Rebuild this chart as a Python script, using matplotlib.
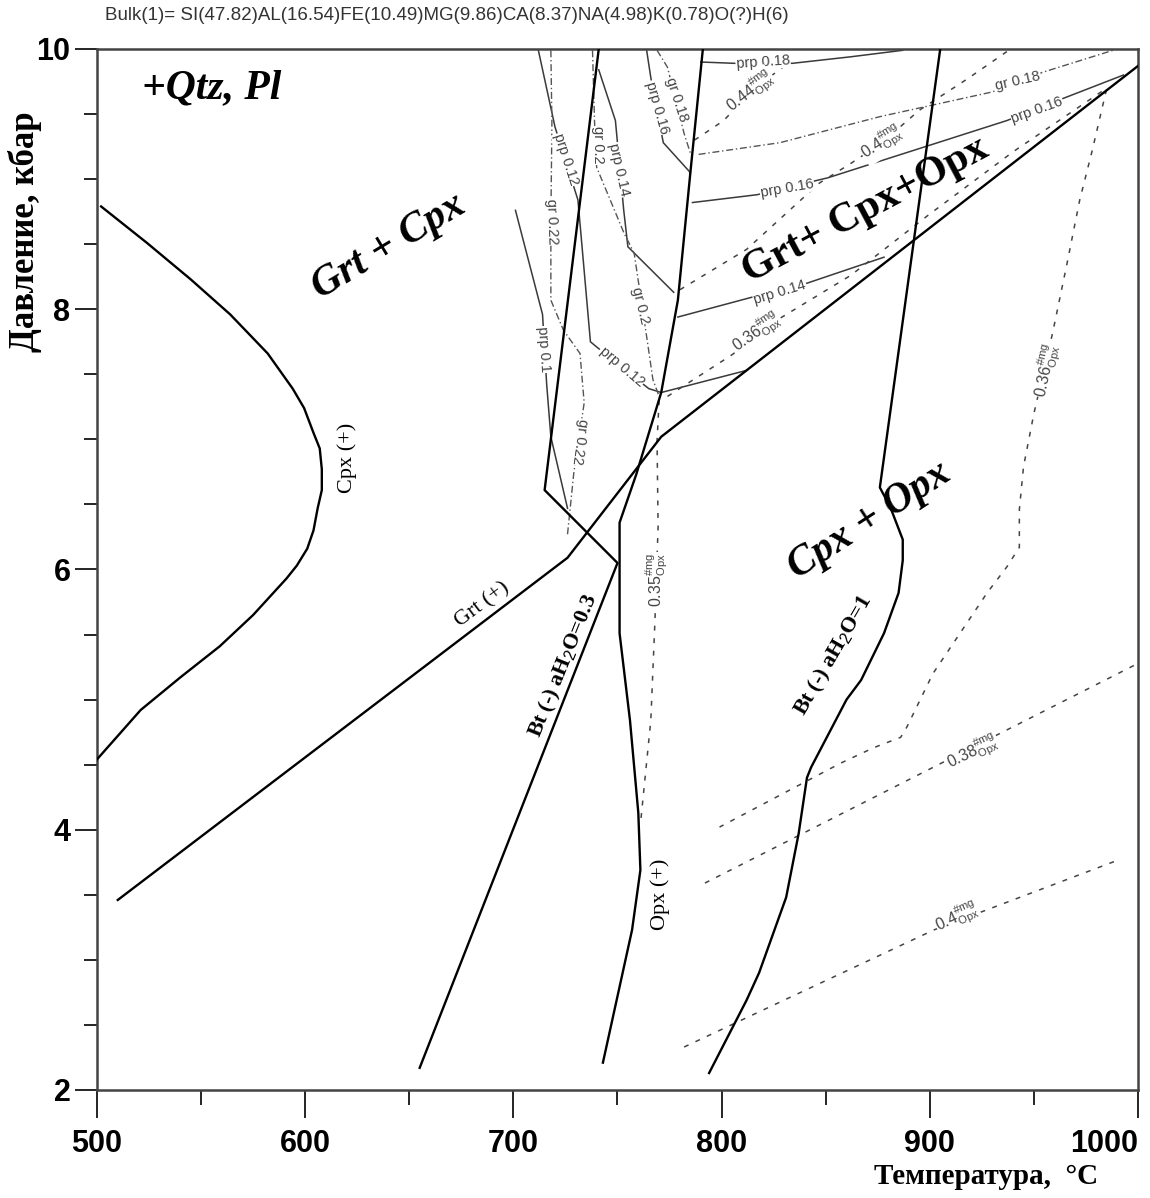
import matplotlib.pyplot as plt
from matplotlib.ticker import MultipleLocator

plt.rcParams['mathtext.fontset'] = 'custom'
plt.rcParams['mathtext.rm'] = 'Liberation Sans'
plt.rcParams['mathtext.it'] = 'Liberation Sans:italic'
plt.rcParams['mathtext.bf'] = 'Liberation Sans:bold'

# --- phase boundaries (T, degC ; P, kbar) ---
cpx_in_T = [502, 524, 545, 564, 582, 594, 599.5, 604, 607, 608, 608, 606, 604, 601, 596, 591, 575, 559, 540, 521, 500]
cpx_in_P = [8.79, 8.51, 8.23, 7.96, 7.66, 7.39, 7.24, 7.05, 6.93, 6.77, 6.61, 6.47, 6.30, 6.16, 6.03, 5.93, 5.65, 5.41, 5.17, 4.92, 4.54]

grt_in_T = [510, 726, 771, 1000]
grt_in_P = [3.46, 6.09, 7.02, 9.87]

bt03_T = [741, 715, 750, 655]
bt03_P = [10.0, 6.61, 6.05, 2.17]

opx_in_T = [791, 785, 779, 771, 759, 751, 751, 756, 760, 761, 757, 743]
opx_in_P = [10.0, 9.05, 8.07, 7.36, 6.73, 6.36, 5.51, 4.84, 4.13, 3.69, 3.23, 2.21]

bt1_T = [905, 876, 881, 887, 887, 885, 878, 867, 860, 843, 841, 837, 831, 818, 812, 794]
bt1_P = [10.0, 6.63, 6.48, 6.23, 6.07, 5.82, 5.51, 5.15, 5.0, 4.48, 4.40, 3.97, 3.48, 2.9, 2.69, 2.13]

# --- prp isopleths ---
prp010_T = [701, 714, 716, 718, 726]
prp010_P = [8.76, 7.96, 7.42, 7.02, 6.47]
prp012_T = [712, 720, 731, 737, 740, 765, 771, 812]
prp012_P = [9.99, 9.40, 8.84, 7.75, 7.71, 7.39, 7.36, 7.53]
prp014a_T = [741, 749, 753, 755, 777]
prp014a_P = [9.84, 9.45, 8.76, 8.48, 8.13]
prp014b_T = [779, 814, 841, 878]
prp014b_P = [7.94, 8.09, 8.20, 8.40]
prp016a_T = [764, 766, 772, 785]
prp016a_P = [9.99, 9.78, 9.28, 9.05]
prp016b_T = [786, 817, 851, 937, 964, 993]
prp016b_P = [8.82, 8.88, 9.01, 9.45, 9.62, 9.80]
prp018_T = [790, 806, 834, 862, 887]
prp018_P = [9.90, 9.89, 9.89, 9.94, 9.99]

# --- gr isopleths ---
gr022_T = [718, 718.5, 718, 718, 724, 732, 734, 729, 726]
gr022_P = [9.99, 9.43, 8.67, 8.07, 7.84, 7.66, 7.28, 6.74, 6.27]
gr020_T = [738, 739, 740, 753, 758, 764, 767, 770]
gr020_P = [9.99, 9.43, 9.09, 8.59, 8.43, 7.79, 7.46, 7.33]
gr018a_T = [769, 774, 782, 785]
gr018a_P = [9.99, 9.86, 9.35, 9.20]
gr018b_T = [789, 828, 876, 930, 954, 988]
gr018b_P = [9.19, 9.28, 9.48, 9.67, 9.82, 9.99]

# --- #mg Opx isopleths ---
mg035_T = [770, 769, 769.5, 768, 766, 761]
mg035_P = [7.30, 6.99, 6.33, 5.61, 4.84, 4.04]
mg036_T = [774, 805, 828, 862, 899, 940, 985, 978, 972, 966, 959, 950, 945, 943, 943,
           937, 927.5, 914.5, 901.5, 889, 886, 873, 857, 799]
mg036_P = [7.33, 7.65, 7.93, 8.26, 8.72, 9.21, 9.70, 9.22, 8.84, 8.36, 7.82, 7.20, 6.79, 6.46, 6.17,
           6.02, 5.82, 5.51, 5.20, 4.79, 4.71, 4.63, 4.51, 4.02]
mg038_T = [792, 999]
mg038_P = [3.59, 5.27]
mg040a_T = [782, 902, 991]
mg040a_P = [2.33, 3.23, 3.77]
mg040b_T = [780, 812, 847, 862, 877, 895, 918, 937]
mg040b_P = [8.15, 8.46, 8.97, 9.12, 9.28, 9.53, 9.77, 9.98]
mg044_T = [787, 801, 814, 826, 833]
mg044_P = [9.30, 9.45, 9.67, 9.82, 9.90]

# isopleth labels: T, P, text, rotation
iso_labels = [
    (714.7, 7.69, 'prp 0.1', -86), (725.3, 9.15, 'prp 0.12', -72), (752, 7.56, 'prp 0.12', -40),
    (750.7, 9.07, 'prp 0.14', -77), (828, 8.13, 'prp 0.14', 17), (769, 9.55, 'prp 0.16', -74),
    (831.4, 8.93, 'prp 0.16', 10), (951.5, 9.53, 'prp 0.16', 20), (819.9, 9.90, 'prp 0.18', 4),
    (718.5, 8.67, 'gr 0.22', -88), (732, 6.98, 'gr 0.22', -98), (740.6, 9.26, 'gr 0.2', -90),
    (760.8, 8.03, 'gr 0.2', -76), (778.6, 9.61, 'gr 0.18', -72), (942.4, 9.75, 'gr 0.18', 13),
]
mg_labels = [
    (813.9, 9.67, '0.44', 38), (877, 9.28, '0.4', 33), (817, 7.82, '0.36', 35),
    (956.3, 7.53, '0.36', 78), (769, 5.92, '0.35', 90), (920.7, 4.60, '0.38', 26),
    (913.1, 3.33, '0.4', 25),
]

SANS = ['Liberation Sans', 'DejaVu Sans']
SERIF = ['Liberation Serif', 'DejaVu Serif']

fig = plt.figure(figsize=(11.5, 11.98), dpi=100)
ax = fig.add_axes([0.0843, 0.0902, 0.9053, 0.8689])
ax.set_xlim(500, 1000)
ax.set_ylim(2, 10)

# boundaries
for T, P in [(cpx_in_T, cpx_in_P), (grt_in_T, grt_in_P), (bt03_T, bt03_P),
             (opx_in_T, opx_in_P), (bt1_T, bt1_P)]:
    ax.plot(T, P, color='black', lw=1.7, zorder=3)

for T, P in [(prp010_T, prp010_P), (prp012_T, prp012_P), (prp014a_T, prp014a_P),
             (prp014b_T, prp014b_P), (prp016a_T, prp016a_P), (prp016b_T, prp016b_P),
             (prp018_T, prp018_P)]:
    ax.plot(T, P, color='#3a3a3a', lw=1.1, zorder=2)

for T, P in [(gr022_T, gr022_P), (gr020_T, gr020_P), (gr018a_T, gr018a_P), (gr018b_T, gr018b_P)]:
    ax.plot(T, P, color='#555555', lw=1.0, dashes=(5, 2, 1, 2), zorder=2)

for T, P in [(mg035_T, mg035_P), (mg036_T, mg036_P), (mg038_T, mg038_P),
             (mg040a_T, mg040a_P), (mg040b_T, mg040b_P), (mg044_T, mg044_P)]:
    ax.plot(T, P, color='#444444', lw=1.1, dashes=(3.2, 5), zorder=2)

for T, P, s, r in iso_labels:
    ax.text(T, P, s, rotation=r, rotation_mode='anchor', ha='center', va='center',
            fontsize=10.5, color='#444444', family=SANS, zorder=2.5,
            bbox=dict(fc='white', ec='none', pad=0.5))

for T, P, s, r in mg_labels:
    ax.text(T, P, r'$\mathrm{%s}^{\#\mathrm{mg}}_{\mathrm{Opx}}$' % s, rotation=r,
            rotation_mode='anchor', ha='center', va='center', fontsize=11.5,
            color='#444444', zorder=2.5, bbox=dict(fc='white', ec='none', pad=0.3))

# field labels
big = dict(family=SERIF, fontweight='bold', ha='center', va='center', rotation_mode='anchor')
ax.text(555, 9.70, '+Qtz, Pl', fontsize=30, style='italic', **big)
ax.text(640, 8.48, 'Grt + Cpx', fontsize=30, style='italic', rotation=31, **big)
ax.text(869, 8.76, 'Grt+ Cpx+Opx', fontsize=30, rotation=28, **big)
ax.text(871, 6.38, 'Cpx + Opx', fontsize=30, style='italic', rotation=33, **big)

small = dict(family=SERIF, ha='center', va='center', rotation_mode='anchor', fontsize=16)
ax.text(620, 6.86, 'Cpx (+)', rotation=90, **small)
ax.text(685.4, 5.73, 'Grt (+)', rotation=37, **small)
ax.text(770.4, 3.50, 'Opx (+)', rotation=90, **small)
ax.text(724.3, 5.26, r'Bt (-) aH$_{2}$O=0.3', rotation=68, fontweight='bold', **small)
ax.text(854, 5.34, r'Bt (-) aH$_{2}$O=1', rotation=60, fontweight='bold', **small)

# axes styling
for sp in ax.spines.values():
    sp.set_color('#444444')
    sp.set_linewidth(1.8)
ax.xaxis.set_major_locator(MultipleLocator(100))
ax.xaxis.set_minor_locator(MultipleLocator(50))
ax.yaxis.set_major_locator(MultipleLocator(2))
ax.yaxis.set_minor_locator(MultipleLocator(0.5))
ax.tick_params(axis='x', which='major', direction='out', length=20, width=1.2, pad=8)
ax.tick_params(axis='x', which='minor', direction='out', length=11, width=1.2)
ax.tick_params(axis='y', which='major', direction='out', length=16, width=1.2, pad=3)
ax.tick_params(axis='y', which='minor', direction='out', length=9.5, width=1.2)

fig.canvas.draw()
for lab in ax.get_xticklabels() + ax.get_yticklabels():
    lab.set_family(SANS)
    lab.set_fontweight('bold')
    lab.set_fontsize(22)
    if lab.get_text() == '1000':
        lab.set_ha('right')

fig.text(25 / 1150, 1 - 232 / 1198, 'Давление, кбар', rotation=90, ha='center', va='center',
         family=SERIF, fontweight='bold', fontsize=25)
fig.text(1098 / 1150, 1 - 1176 / 1198, 'Температура,  °C', ha='right', va='center',
         family=SERIF, fontweight='bold', fontsize=21)
fig.text(105 / 1150, 1 - 16 / 1198,
         'Bulk(1)= SI(47.82)AL(16.54)FE(10.49)MG(9.86)CA(8.37)NA(4.98)K(0.78)O(?)H(6)',
         ha='left', va='center', family=SANS, fontsize=13.5, color='#333333')

fig.savefig('out.png', dpi=100)
